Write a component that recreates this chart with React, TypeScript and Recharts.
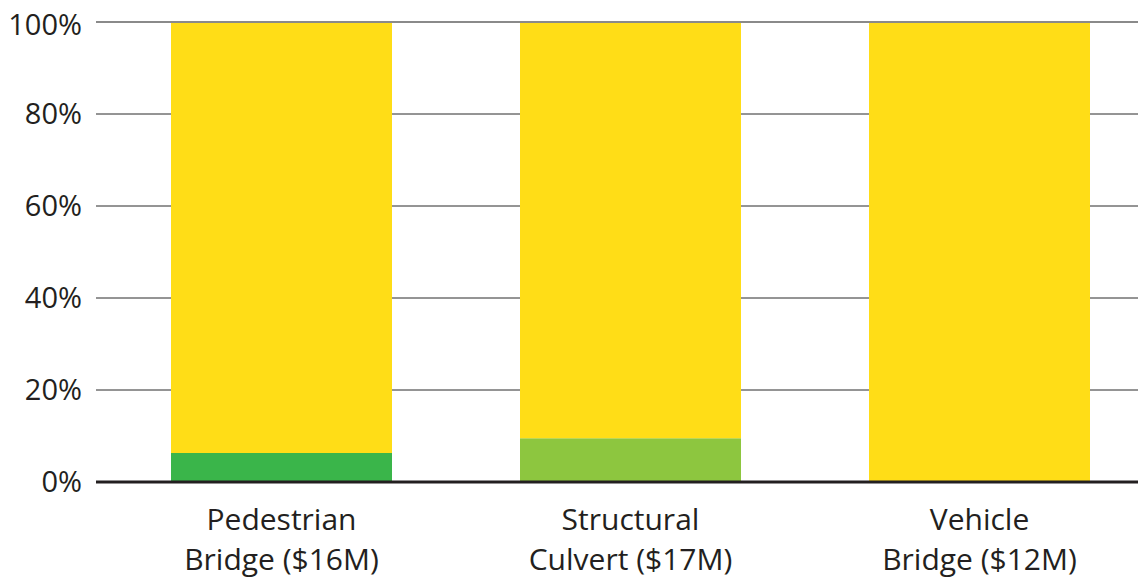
import React from 'react';
import { BarChart, Bar, XAxis, YAxis, CartesianGrid, ReferenceLine } from 'recharts';

// share of each project's cost, in percent
const categories = ['Pedestrian\nBridge ($16M)', 'Structural\nCulvert ($17M)', 'Vehicle\nBridge ($12M)'];
const darkGreen = [6.3, 0, 0];
const lightGreen = [0, 9.5, 0];
const yellow = [93.7, 90.5, 100];
const yTicks = [0, 20, 40, 60, 80, 100];

const data = categories.map((name, i) => ({
  name,
  darkGreen: darkGreen[i],
  lightGreen: lightGreen[i],
  yellow: yellow[i],
}));

const FONT = '"Open Sans", "Noto Sans", sans-serif';

const CategoryTick = ({ x, y, payload }: { x?: number; y?: number; payload?: { value: string } }) => {
  const lines = (payload?.value || '').split('\n');
  return (
    <text x={x} y={y} textAnchor="middle" fill="#231f20" fontSize={30} fontFamily={FONT}>
      {lines.map((line, i) => (
        <tspan key={i} x={x} dy={i === 0 ? 40 : 40}>
          {line}
        </tspan>
      ))}
    </text>
  );
};

export default function App() {
  return (
    <div style={{ width: 1138, overflow: 'hidden' }}>
      <BarChart
        width={1146}
        height={573}
        data={data}
        margin={{ top: 14, right: 0, left: 0, bottom: 0 }}
        barCategoryGap={0}
      >
        <CartesianGrid vertical={false} stroke="#2a2a2a" strokeWidth={1} />
        <XAxis
          dataKey="name"
          height={99}
          tick={<CategoryTick />}
          tickLine={false}
          axisLine={false}
          padding={{ left: 11, right: 0 }}
          interval={0}
        />
        <YAxis
          type="number"
          domain={[0, 100]}
          ticks={yTicks}
          width={88}
          tickFormatter={(v) => `${v}%`}
          tick={{ fontSize: 29, fill: '#231f20', fontFamily: FONT }}
          tickSize={0}
          tickMargin={14}
          axisLine={false}
          tickLine={false}
        />
        <Bar dataKey="darkGreen" stackId="a" fill="#3ab54a" barSize={221} isAnimationActive={false} />
        <Bar dataKey="lightGreen" stackId="a" fill="#8dc63f" barSize={221} isAnimationActive={false} />
        <Bar dataKey="yellow" stackId="a" fill="#ffdd17" barSize={221} isAnimationActive={false} />
        <ReferenceLine y={100} stroke="#8a8a8a" strokeWidth={2} />
        <ReferenceLine y={0} stroke="#231f20" strokeWidth={3} />
      </BarChart>
    </div>
  );
}
